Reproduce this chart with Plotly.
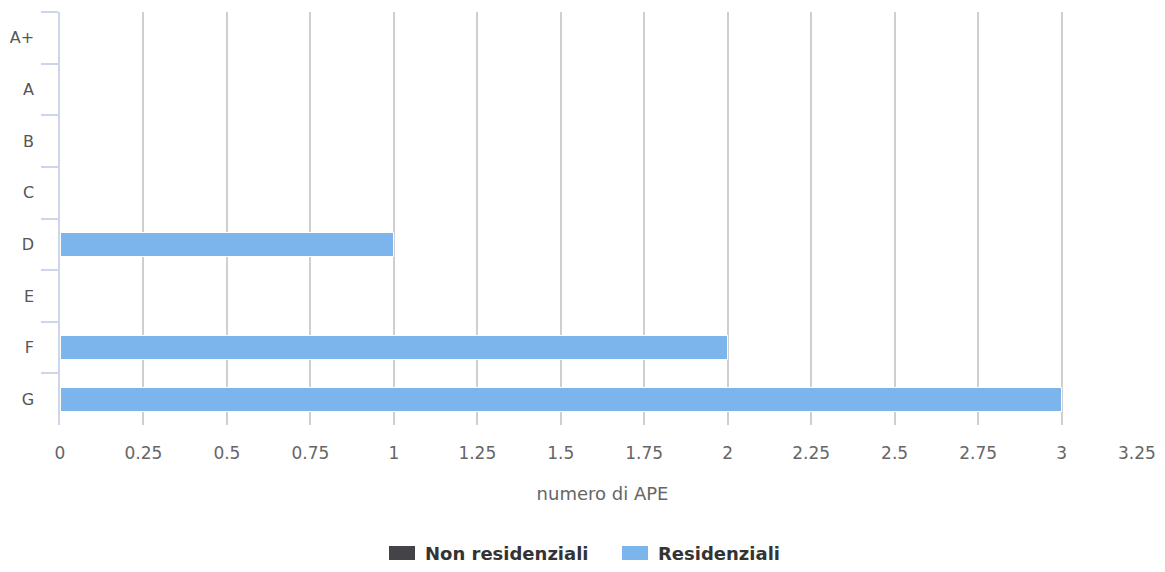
import plotly.graph_objects as go

categories = ["A+", "A", "B", "C", "D", "E", "F", "G"]
non_residenziali = [None, None, None, None, None, None, None, None]
residenziali = [None, None, None, None, 1, None, 2, 3]
x_ticks = [0, 0.25, 0.5, 0.75, 1, 1.25, 1.5, 1.75, 2, 2.25, 2.5, 2.75, 3, 3.25]
# last label padded on the right so it stays inside the visible page area
x_tick_labels = ["0", "0.25", "0.5", "0.75", "1", "1.25", "1.5", "1.75", "2", "2.25", "2.5", "2.75", "3",
                 "3.25\u00a0\u00a0\u00a0"]
series_names = ["Non residenziali", "Residenziali"]
series_colors = ["#434348", "#7cb5ec"]

FONT = "DejaVu Sans, Verdana, sans-serif"
OFF = 8  # default page margin of the html body
W, H = 1165 - OFF, 556
ML, MR, MT = 60 - OFF, 20, 12 - OFF
MB = H - (425 - OFF)
PW = W - ML - MR
PH = H - MT - MB

fig = go.Figure()
for name, vals, col in zip(series_names, [non_residenziali, residenziali], series_colors):
    fig.add_trace(go.Bar(
        y=categories, x=vals, orientation="h", name=name, showlegend=False,
        marker=dict(color=col, line=dict(color="#ffffff", width=1)), width=0.47,
    ))

# manual legend (swatches + labels); window pixel -> paper coords
def px_x(p):
    return (p - OFF - ML) / PW

def px_y(p):
    return (H - MB - (p - OFF)) / PH

LEG_Y = 553
legend_items = [(389, 425), (622, 658)]
shapes = []
annotations = []
for (sx, tx), name, col in zip(legend_items, series_names, series_colors):
    shapes.append(dict(type="rect", xref="paper", yref="paper",
                       x0=px_x(sx), x1=px_x(sx + 26), y0=px_y(LEG_Y + 7), y1=px_y(LEG_Y - 7),
                       fillcolor=col, line=dict(width=0)))
    annotations.append(dict(xref="paper", yref="paper", x=px_x(tx - 2), y=px_y(LEG_Y),
                            xanchor="left", yanchor="middle", showarrow=False,
                            text="<b>%s</b>" % name,
                            font=dict(family=FONT, size=18, color="#333333")))

fig.update_layout(
    width=W, height=H,
    margin=dict(l=ML, r=MR, t=MT, b=MB, autoexpand=False),
    paper_bgcolor="#ffffff", plot_bgcolor="#ffffff",
    barmode="stack",
    font=dict(family=FONT, size=15, color="#666666"),
    showlegend=False,
    shapes=shapes,
    annotations=annotations,
    xaxis=dict(
        range=[0, 3.25], tickvals=x_ticks, ticktext=x_tick_labels,
        showgrid=True, gridcolor="#cfcfcf", gridwidth=1.5,
        zeroline=False, showline=False, ticks="", ticklabelstandoff=16,
        ticklabeloverflow="allow",
        automargin=False,
        title=dict(text="numero di APE", font=dict(family=FONT, size=18, color="#666666"), standoff=25),
        tickfont=dict(family=FONT, size=17, color="#666666"),
    ),
    yaxis=dict(
        categoryorder="array", categoryarray=categories, autorange="reversed",
        showline=True, linecolor="#ccd6eb", linewidth=1.5,
        ticks="outside", tickson="boundaries", ticklen=17, tickcolor="#ccd6eb", tickwidth=1.5,
        showgrid=False, zeroline=False, automargin=False, ticklabelstandoff=21,
        tickfont=dict(family=FONT, size=16, color="#555555"),
    ),
)

fig.write_html("out.html")
